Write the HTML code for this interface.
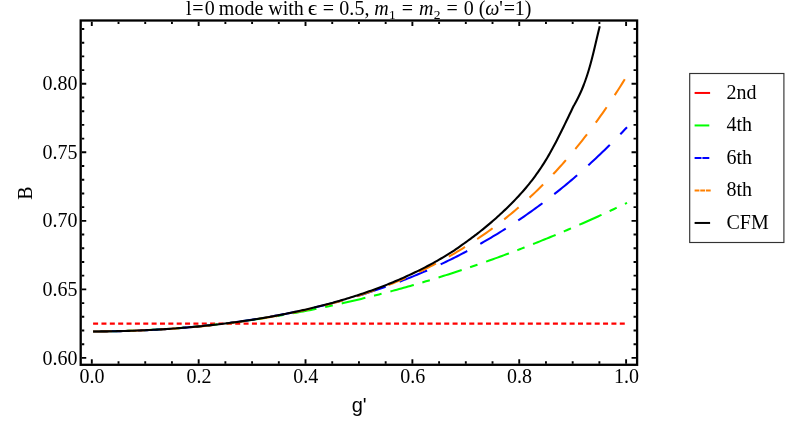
<!DOCTYPE html>
<html><head><meta charset="utf-8"><title>plot</title>
<style>html,body{margin:0;padding:0;background:#fff;overflow:hidden}svg{display:block;will-change:transform}</style>
</head><body>
<svg width="800" height="432" viewBox="0 0 800 432">
<rect x="0" y="0" width="800" height="432" fill="#fff"/>
<g fill="none" stroke-linecap="butt" stroke-linejoin="round">
<path d="M93.1 323.7 H627" stroke="#ff0000" stroke-width="2.2" stroke-dasharray="5 3.36"/>
<path d="M93.10 331.45 L95.33 331.44 L97.57 331.43 L99.80 331.42 L102.03 331.40 L104.27 331.38 L106.50 331.35 L108.74 331.32 L110.97 331.28 L113.20 331.24 L115.44 331.20 L117.67 331.15 L119.91 331.09 L122.14 331.04 L124.37 330.97 L126.61 330.91 L128.84 330.83 L131.08 330.76 L133.31 330.68 L135.54 330.59 L137.78 330.50 L140.01 330.41 L142.24 330.31 L144.48 330.20 L146.71 330.10 L148.95 329.98 L151.18 329.87 L153.41 329.75 L155.65 329.62 L157.88 329.49 L160.12 329.35 L162.35 329.22 L164.58 329.07 L166.82 328.92 L169.05 328.77 L171.29 328.61 L173.52 328.45 L175.75 328.29 L177.99 328.11 L180.22 327.94 L182.46 327.76 L184.69 327.58 L186.92 327.39 L189.16 327.19 L191.39 327.00 L193.63 326.80 L195.86 326.59 L198.09 326.38 L200.33 326.16 L202.56 325.94 L204.79 325.72 L207.03 325.49 L209.26 325.26 L211.50 325.02 L213.73 324.78 L215.96 324.53 L218.20 324.28 L220.43 324.02 L222.67 323.76 L224.90 323.50 L227.13 323.23 L229.37 322.95 L231.60 322.68 L233.84 322.39 L236.07 322.11 L238.30 321.82 L240.54 321.52 L242.77 321.22 L245.01 320.91 L247.24 320.60 L249.47 320.29 L251.71 319.97 L253.94 319.65 L256.18 319.32 L258.41 318.99 L260.64 318.65 L262.88 318.31 L265.11 317.97 L267.35 317.62 L269.58 317.26 L271.81 316.90 L274.05 316.54 L276.28 316.17 L278.51 315.80 L280.75 315.42 L282.98 315.04 L285.22 314.66 L287.45 314.27 L289.68 313.87 L291.92 313.47 L294.15 313.07 L296.39 312.66 L298.62 312.25 L300.85 311.83 L303.09 311.41 L305.32 310.98 L307.56 310.55 L309.79 310.12 L312.02 309.68 L314.26 309.24 L316.49 308.79 L318.73 308.33 L320.96 307.88 L323.19 307.42 L325.43 306.95 L327.66 306.48 L329.90 306.00 L332.13 305.52 L334.36 305.04 L336.60 304.55 L338.83 304.06 L341.06 303.56 L343.30 303.06 L345.53 302.55 L347.77 302.04 L350.00 301.52 L352.23 301.00 L354.47 300.48 L356.70 299.95 L358.94 299.42 L361.17 298.88 L363.40 298.34 L365.64 297.79 L367.87 297.24 L370.11 296.68 L372.34 296.12 L374.57 295.56 L376.81 294.99 L379.04 294.41 L381.28 293.84 L383.51 293.25 L385.74 292.67 L387.98 292.07 L390.21 291.48 L392.45 290.88 L394.68 290.27 L396.91 289.66 L399.15 289.05 L401.38 288.43 L403.62 287.81 L405.85 287.18 L408.08 286.55 L410.32 285.91 L412.55 285.27 L414.78 284.62 L417.02 283.97 L419.25 283.32 L421.49 282.66 L423.72 282.00 L425.95 281.33 L428.19 280.66 L430.42 279.98 L432.66 279.30 L434.89 278.61 L437.12 277.92 L439.36 277.23 L441.59 276.53 L443.83 275.82 L446.06 275.12 L448.29 274.40 L450.53 273.69 L452.76 272.96 L455.00 272.24 L457.23 271.51 L459.46 270.77 L461.70 270.03 L463.93 269.29 L466.17 268.54 L468.40 267.79 L470.63 267.03 L472.87 266.27 L475.10 265.50 L477.33 264.73 L479.57 263.96 L481.80 263.18 L484.04 262.39 L486.27 261.60 L488.50 260.81 L490.74 260.01 L492.97 259.21 L495.21 258.40 L497.44 257.59 L499.67 256.77 L501.91 255.95 L504.14 255.13 L506.38 254.30 L508.61 253.47 L510.84 252.63 L513.08 251.79 L515.31 250.94 L517.55 250.09 L519.78 249.23 L522.01 248.37 L524.25 247.51 L526.48 246.64 L528.72 245.76 L530.95 244.88 L533.18 244.00 L535.42 243.11 L537.65 242.22 L539.88 241.33 L542.12 240.42 L544.35 239.52 L546.59 238.61 L548.82 237.69 L551.05 236.78 L553.29 235.85 L555.52 234.93 L557.76 233.99 L559.99 233.06 L562.22 232.11 L564.46 231.17 L566.69 230.22 L568.93 229.26 L571.16 228.31 L573.39 227.34 L575.63 226.37 L577.86 225.40 L580.10 224.42 L582.33 223.44 L584.56 222.46 L586.80 221.47 L589.03 220.47 L591.27 219.47 L593.50 218.47 L595.73 217.46 L597.97 216.45 L600.20 215.43 L602.44 214.41 L604.67 213.38 L606.90 212.35 L609.14 211.32 L611.37 210.28 L613.60 209.23 L615.84 208.18 L618.07 207.13 L620.31 206.07 L622.54 205.01 L624.77 203.94 L627.01 202.87" stroke="#00ff00" stroke-width="2.05" stroke-dasharray="24.3 8.9 7.8 9.14" stroke-dashoffset="0"/>
<path d="M93.10 331.45 L95.33 331.44 L97.57 331.43 L99.80 331.42 L102.03 331.40 L104.27 331.38 L106.50 331.36 L108.74 331.33 L110.97 331.29 L113.20 331.25 L115.44 331.21 L117.67 331.16 L119.91 331.11 L122.14 331.05 L124.37 330.99 L126.61 330.92 L128.84 330.85 L131.08 330.78 L133.31 330.70 L135.54 330.62 L137.78 330.53 L140.01 330.44 L142.24 330.34 L144.48 330.24 L146.71 330.14 L148.95 330.03 L151.18 329.91 L153.41 329.79 L155.65 329.67 L157.88 329.54 L160.12 329.41 L162.35 329.27 L164.58 329.13 L166.82 328.98 L169.05 328.83 L171.29 328.68 L173.52 328.52 L175.75 328.35 L177.99 328.18 L180.22 328.01 L182.46 327.83 L184.69 327.64 L186.92 327.45 L189.16 327.26 L191.39 327.06 L193.63 326.86 L195.86 326.65 L198.09 326.44 L200.33 326.22 L202.56 325.99 L204.79 325.77 L207.03 325.53 L209.26 325.29 L211.50 325.05 L213.73 324.80 L215.96 324.55 L218.20 324.29 L220.43 324.02 L222.67 323.75 L224.90 323.48 L227.13 323.20 L229.37 322.91 L231.60 322.62 L233.84 322.32 L236.07 322.02 L238.30 321.71 L240.54 321.40 L242.77 321.08 L245.01 320.76 L247.24 320.43 L249.47 320.09 L251.71 319.75 L253.94 319.40 L256.18 319.05 L258.41 318.69 L260.64 318.32 L262.88 317.95 L265.11 317.57 L267.35 317.19 L269.58 316.80 L271.81 316.40 L274.05 316.00 L276.28 315.59 L278.51 315.18 L280.75 314.76 L282.98 314.33 L285.22 313.90 L287.45 313.45 L289.68 313.01 L291.92 312.55 L294.15 312.09 L296.39 311.63 L298.62 311.15 L300.85 310.67 L303.09 310.19 L305.32 309.69 L307.56 309.19 L309.79 308.68 L312.02 308.17 L314.26 307.64 L316.49 307.11 L318.73 306.58 L320.96 306.03 L323.19 305.48 L325.43 304.92 L327.66 304.35 L329.90 303.78 L332.13 303.20 L334.36 302.61 L336.60 302.01 L338.83 301.40 L341.06 300.79 L343.30 300.17 L345.53 299.54 L347.77 298.90 L350.00 298.26 L352.23 297.60 L354.47 296.94 L356.70 296.27 L358.94 295.59 L361.17 294.90 L363.40 294.21 L365.64 293.50 L367.87 292.79 L370.11 292.07 L372.34 291.34 L374.57 290.60 L376.81 289.85 L379.04 289.09 L381.28 288.32 L383.51 287.55 L385.74 286.76 L387.98 285.97 L390.21 285.16 L392.45 284.35 L394.68 283.53 L396.91 282.69 L399.15 281.85 L401.38 281.00 L403.62 280.13 L405.85 279.26 L408.08 278.38 L410.32 277.48 L412.55 276.58 L414.78 275.67 L417.02 274.74 L419.25 273.81 L421.49 272.86 L423.72 271.91 L425.95 270.94 L428.19 269.96 L430.42 268.97 L432.66 267.97 L434.89 266.96 L437.12 265.94 L439.36 264.91 L441.59 263.86 L443.83 262.81 L446.06 261.74 L448.29 260.66 L450.53 259.57 L452.76 258.46 L455.00 257.35 L457.23 256.22 L459.46 255.08 L461.70 253.93 L463.93 252.77 L466.17 251.59 L468.40 250.40 L470.63 249.20 L472.87 247.99 L475.10 246.76 L477.33 245.52 L479.57 244.27 L481.80 243.00 L484.04 241.72 L486.27 240.43 L488.50 239.12 L490.74 237.80 L492.97 236.47 L495.21 235.12 L497.44 233.76 L499.67 232.39 L501.91 231.00 L504.14 229.60 L506.38 228.18 L508.61 226.75 L510.84 225.30 L513.08 223.84 L515.31 222.36 L517.55 220.87 L519.78 219.37 L522.01 217.85 L524.25 216.31 L526.48 214.76 L528.72 213.19 L530.95 211.61 L533.18 210.01 L535.42 208.40 L537.65 206.77 L539.88 205.13 L542.12 203.47 L544.35 201.79 L546.59 200.10 L548.82 198.39 L551.05 196.66 L553.29 194.92 L555.52 193.16 L557.76 191.38 L559.99 189.58 L562.22 187.77 L564.46 185.94 L566.69 184.10 L568.93 182.24 L571.16 180.35 L573.39 178.46 L575.63 176.54 L577.86 174.60 L580.10 172.65 L582.33 170.68 L584.56 168.69 L586.80 166.68 L589.03 164.65 L591.27 162.61 L593.50 160.54 L595.73 158.46 L597.97 156.36 L600.20 154.23 L602.44 152.09 L604.67 149.93 L606.90 147.75 L609.14 145.55 L611.37 143.33 L613.60 141.09 L615.84 138.82 L618.07 136.54 L620.31 134.24 L622.54 131.92 L624.77 129.57 L627.01 127.21" stroke="#0000ff" stroke-width="2.05" stroke-dasharray="29.7 14.9" stroke-dashoffset="0"/>
<path d="M93.10 331.45 L95.33 331.44 L97.57 331.44 L99.80 331.42 L102.03 331.41 L104.27 331.38 L106.50 331.36 L108.74 331.33 L110.97 331.30 L113.20 331.26 L115.44 331.22 L117.67 331.17 L119.91 331.12 L122.14 331.06 L124.37 331.01 L126.61 330.94 L128.84 330.88 L131.08 330.80 L133.31 330.73 L135.54 330.65 L137.78 330.56 L140.01 330.47 L142.24 330.38 L144.48 330.28 L146.71 330.18 L148.95 330.08 L151.18 329.97 L153.41 329.85 L155.65 329.73 L157.88 329.61 L160.12 329.48 L162.35 329.35 L164.58 329.21 L166.82 329.07 L169.05 328.92 L171.29 328.77 L173.52 328.62 L175.75 328.46 L177.99 328.29 L180.22 328.12 L182.46 327.95 L184.69 327.77 L186.92 327.59 L189.16 327.40 L191.39 327.21 L193.63 327.01 L195.86 326.81 L198.09 326.60 L200.33 326.39 L202.56 326.17 L204.79 325.95 L207.03 325.72 L209.26 325.49 L211.50 325.25 L213.73 325.01 L215.96 324.76 L218.20 324.51 L220.43 324.25 L222.67 323.98 L224.90 323.71 L227.13 323.44 L229.37 323.16 L231.60 322.88 L233.84 322.58 L236.07 322.29 L238.30 321.99 L240.54 321.68 L242.77 321.36 L245.01 321.04 L247.24 320.72 L249.47 320.39 L251.71 320.05 L253.94 319.71 L256.18 319.36 L258.41 319.00 L260.64 318.64 L262.88 318.27 L265.11 317.90 L267.35 317.52 L269.58 317.13 L271.81 316.74 L274.05 316.34 L276.28 315.93 L278.51 315.52 L280.75 315.10 L282.98 314.67 L285.22 314.24 L287.45 313.80 L289.68 313.35 L291.92 312.90 L294.15 312.43 L296.39 311.96 L298.62 311.49 L300.85 311.00 L303.09 310.51 L305.32 310.01 L307.56 309.50 L309.79 308.99 L312.02 308.47 L314.26 307.93 L316.49 307.39 L318.73 306.85 L320.96 306.29 L323.19 305.73 L325.43 305.15 L327.66 304.57 L329.90 303.98 L332.13 303.38 L334.36 302.78 L336.60 302.16 L338.83 301.53 L341.06 300.90 L343.30 300.26 L345.53 299.60 L347.77 298.94 L350.00 298.27 L352.23 297.58 L354.47 296.89 L356.70 296.19 L358.94 295.47 L361.17 294.75 L363.40 294.02 L365.64 293.27 L367.87 292.52 L370.11 291.75 L372.34 290.97 L374.57 290.18 L376.81 289.39 L379.04 288.57 L381.28 287.75 L383.51 286.92 L385.74 286.07 L387.98 285.21 L390.21 284.34 L392.45 283.46 L394.68 282.57 L396.91 281.66 L399.15 280.74 L401.38 279.80 L403.62 278.86 L405.85 277.90 L408.08 276.92 L410.32 275.94 L412.55 274.94 L414.78 273.92 L417.02 272.89 L419.25 271.85 L421.49 270.79 L423.72 269.72 L425.95 268.63 L428.19 267.53 L430.42 266.41 L432.66 265.27 L434.89 264.12 L437.12 262.96 L439.36 261.78 L441.59 260.58 L443.83 259.36 L446.06 258.13 L448.29 256.88 L450.53 255.61 L452.76 254.33 L455.00 253.03 L457.23 251.71 L459.46 250.37 L461.70 249.01 L463.93 247.64 L466.17 246.25 L468.40 244.83 L470.63 243.40 L472.87 241.95 L475.10 240.47 L477.33 238.98 L479.57 237.47 L481.80 235.94 L484.04 234.38 L486.27 232.80 L488.50 231.21 L490.74 229.59 L492.97 227.94 L495.21 226.28 L497.44 224.59 L499.67 222.88 L501.91 221.15 L504.14 219.39 L506.38 217.61 L508.61 215.81 L510.84 213.98 L513.08 212.12 L515.31 210.24 L517.55 208.33 L519.78 206.40 L522.01 204.44 L524.25 202.46 L526.48 200.45 L528.72 198.41 L530.95 196.34 L533.18 194.25 L535.42 192.13 L537.65 189.98 L539.88 187.79 L542.12 185.59 L544.35 183.35 L546.59 181.08 L548.82 178.78 L551.05 176.44 L553.29 174.08 L555.52 171.69 L557.76 169.26 L559.99 166.80 L562.22 164.31 L564.46 161.78 L566.69 159.22 L568.93 156.63 L571.16 154.00 L573.39 151.34 L575.63 148.64 L577.86 145.90 L580.10 143.13 L582.33 140.32 L584.56 137.48 L586.80 134.59 L589.03 131.67 L591.27 128.71 L593.50 125.71 L595.73 122.67 L597.97 119.59 L600.20 116.47 L602.44 113.30 L604.67 110.10 L606.90 106.85 L609.14 103.56 L611.37 100.23 L613.60 96.86 L615.84 93.43 L618.07 89.97 L620.31 86.46 L622.54 82.90 L624.77 79.30 L627.01 75.65" stroke="#ff8000" stroke-width="2.05" stroke-dasharray="18.8 14.6" stroke-dashoffset="0"/>
<path d="M93.10 331.45 L95.10 331.44 L97.10 331.44 L99.10 331.43 L101.10 331.41 L103.10 331.39 L105.10 331.37 L107.10 331.35 L109.10 331.32 L111.10 331.29 L113.10 331.25 L115.10 331.22 L117.10 331.17 L119.10 331.13 L121.10 331.08 L123.10 331.03 L125.10 330.97 L127.10 330.91 L129.10 330.85 L131.10 330.78 L133.10 330.71 L135.10 330.64 L137.10 330.56 L139.10 330.48 L141.10 330.40 L143.10 330.31 L145.10 330.22 L147.10 330.13 L149.10 330.03 L151.10 329.93 L153.10 329.82 L155.10 329.72 L157.10 329.60 L159.10 329.49 L161.10 329.37 L163.10 329.24 L165.10 329.12 L167.10 328.99 L169.10 328.85 L171.10 328.71 L173.10 328.57 L175.10 328.43 L177.10 328.28 L179.10 328.13 L181.10 327.97 L183.10 327.81 L185.10 327.64 L187.10 327.48 L189.10 327.30 L191.10 327.13 L193.10 326.95 L195.10 326.76 L197.10 326.58 L199.10 326.39 L201.10 326.19 L203.10 325.99 L205.10 325.79 L207.10 325.58 L209.10 325.37 L211.10 325.15 L213.10 324.93 L215.10 324.71 L217.10 324.48 L219.10 324.25 L221.10 324.01 L223.10 323.77 L225.10 323.52 L227.10 323.27 L229.10 323.02 L231.10 322.76 L233.10 322.49 L235.10 322.23 L237.10 321.96 L239.10 321.68 L241.10 321.40 L243.10 321.11 L245.10 320.82 L247.10 320.52 L249.10 320.22 L251.10 319.92 L253.10 319.61 L255.10 319.30 L257.10 318.98 L259.10 318.65 L261.10 318.32 L263.10 317.99 L265.10 317.65 L267.10 317.30 L269.10 316.95 L271.10 316.60 L273.10 316.24 L275.10 315.87 L277.10 315.50 L279.10 315.12 L281.10 314.74 L283.10 314.35 L285.10 313.96 L287.10 313.56 L289.10 313.15 L291.10 312.74 L293.10 312.32 L295.10 311.90 L297.10 311.47 L299.10 311.04 L301.10 310.59 L303.10 310.15 L305.10 309.69 L307.10 309.23 L309.10 308.77 L311.10 308.29 L313.10 307.81 L315.10 307.33 L317.10 306.84 L319.10 306.34 L321.10 305.83 L323.10 305.31 L325.10 304.79 L327.10 304.27 L329.10 303.73 L331.10 303.19 L333.10 302.64 L335.10 302.08 L337.10 301.52 L339.10 300.94 L341.10 300.36 L343.10 299.78 L345.10 299.18 L347.10 298.57 L349.10 297.96 L351.10 297.34 L353.10 296.71 L355.10 296.07 L357.10 295.43 L359.10 294.77 L361.10 294.11 L363.10 293.44 L365.10 292.75 L367.10 292.06 L369.10 291.36 L371.10 290.65 L373.10 289.93 L375.10 289.20 L377.10 288.46 L379.10 287.71 L381.10 286.95 L383.10 286.18 L385.10 285.40 L387.10 284.61 L389.10 283.81 L391.10 283.00 L393.10 282.17 L395.10 281.34 L397.10 280.49 L399.10 279.63 L401.10 278.76 L403.10 277.88 L405.10 276.99 L407.10 276.08 L409.10 275.16 L411.10 274.23 L413.10 273.28 L415.10 272.32 L417.10 271.35 L419.10 270.36 L421.10 269.36 L423.10 268.35 L425.10 267.32 L427.10 266.27 L429.10 265.22 L431.10 264.14 L433.10 263.05 L435.10 261.94 L437.10 260.82 L439.10 259.68 L441.10 258.53 L443.10 257.35 L445.10 256.16 L447.10 254.95 L449.10 253.72 L451.10 252.48 L454.00 250.59 L456.00 249.24 L458.00 247.85 L460.00 246.43 L462.00 244.97 L464.00 243.50 L466.00 242.07 L467.50 240.99 L469.00 239.90 L470.50 238.80 L472.00 237.69 L473.50 236.57 L475.00 235.43 L476.50 234.29 L478.00 233.13 L479.50 231.96 L481.00 230.78 L482.50 229.58 L484.00 228.37 L485.50 227.15 L487.00 225.91 L488.50 224.66 L490.00 223.40 L491.50 222.12 L493.00 220.82 L494.50 219.51 L496.00 218.18 L497.50 216.84 L499.00 215.48 L500.50 214.10 L502.00 212.71 L503.50 211.30 L505.00 209.87 L506.50 208.43 L508.00 206.96 L509.50 205.48 L511.00 203.98 L512.50 202.46 L514.00 200.92 L515.50 199.36 L517.00 197.77 L518.50 196.17 L520.00 194.54 L521.50 192.88 L523.00 191.19 L524.50 189.46 L526.00 187.71 L527.50 185.91 L529.00 184.08 L530.50 182.20 L532.00 180.28 L533.50 178.32 L535.00 176.30 L536.50 174.24 L538.00 172.12 L539.50 169.95 L541.00 167.72 L542.50 165.43 L544.00 163.08 L545.50 160.66 L547.00 158.18 L548.50 155.63 L550.00 153.01 L551.50 150.33 L553.00 147.58 L554.50 144.78 L556.00 141.92 L557.50 139.01 L559.00 136.06 L560.50 133.07 L562.00 130.05 L563.50 126.99 L565.00 123.91 L566.50 120.81 L568.00 117.70 L569.50 114.57 L571.00 111.43 L572.50 108.29 L573.60 105.99 L574.51 104.50 L575.34 103.00 L576.15 101.50 L576.94 100.00 L577.70 98.50 L578.45 97.00 L579.17 95.50 L579.88 94.00 L580.57 92.50 L581.24 91.00 L581.89 89.50 L582.50 88.00 L583.11 86.50 L583.69 85.00 L584.26 83.50 L584.82 82.00 L585.36 80.50 L585.88 79.00 L586.40 77.50 L586.90 76.00 L587.39 74.50 L587.86 73.00 L588.33 71.50 L588.78 70.00 L589.22 68.50 L589.66 67.00 L590.08 65.50 L590.50 64.00 L590.91 62.50 L591.31 61.00 L591.70 59.50 L592.09 58.00 L592.47 56.50 L592.85 55.00 L593.22 53.50 L593.59 52.00 L593.95 50.50 L594.31 49.00 L594.67 47.50 L595.03 46.00 L595.38 44.50 L595.73 43.00 L596.08 41.50 L596.44 40.00 L596.79 38.50 L597.14 37.00 L597.50 35.50 L597.86 34.00 L598.22 32.50 L598.58 31.00 L598.95 29.50 L599.32 28.00 L599.70 26.50 L599.77 26.20" stroke="#000" stroke-width="2.1"/>
</g>
<rect x="80.70" y="20.50" width="556.40" height="344.30" fill="none" stroke="#000" stroke-width="2.30"/>
<path d="M91.80 363.65 v-4.40 M91.80 21.65 v4.40 M118.52 363.65 v-2.40 M118.52 21.65 v2.40 M145.23 363.65 v-2.40 M145.23 21.65 v2.40 M171.94 363.65 v-2.40 M171.94 21.65 v2.40 M198.66 363.65 v-4.40 M198.66 21.65 v4.40 M225.38 363.65 v-2.40 M225.38 21.65 v2.40 M252.09 363.65 v-2.40 M252.09 21.65 v2.40 M278.81 363.65 v-2.40 M278.81 21.65 v2.40 M305.52 363.65 v-4.40 M305.52 21.65 v4.40 M332.23 363.65 v-2.40 M332.23 21.65 v2.40 M358.95 363.65 v-2.40 M358.95 21.65 v2.40 M385.67 363.65 v-2.40 M385.67 21.65 v2.40 M412.38 363.65 v-4.40 M412.38 21.65 v4.40 M439.09 363.65 v-2.40 M439.09 21.65 v2.40 M465.81 363.65 v-2.40 M465.81 21.65 v2.40 M492.52 363.65 v-2.40 M492.52 21.65 v2.40 M519.24 363.65 v-4.40 M519.24 21.65 v4.40 M545.96 363.65 v-2.40 M545.96 21.65 v2.40 M572.67 363.65 v-2.40 M572.67 21.65 v2.40 M599.38 363.65 v-2.40 M599.38 21.65 v2.40 M626.10 363.65 v-4.40 M626.10 21.65 v4.40 M81.85 357.90 h4.40 M635.95 357.90 h-4.40 M81.85 344.19 h2.40 M635.95 344.19 h-2.40 M81.85 330.49 h2.40 M635.95 330.49 h-2.40 M81.85 316.78 h2.40 M635.95 316.78 h-2.40 M81.85 303.08 h2.40 M635.95 303.08 h-2.40 M81.85 289.37 h4.40 M635.95 289.37 h-4.40 M81.85 275.67 h2.40 M635.95 275.67 h-2.40 M81.85 261.97 h2.40 M635.95 261.97 h-2.40 M81.85 248.26 h2.40 M635.95 248.26 h-2.40 M81.85 234.56 h2.40 M635.95 234.56 h-2.40 M81.85 220.85 h4.40 M635.95 220.85 h-4.40 M81.85 207.14 h2.40 M635.95 207.14 h-2.40 M81.85 193.44 h2.40 M635.95 193.44 h-2.40 M81.85 179.73 h2.40 M635.95 179.73 h-2.40 M81.85 166.03 h2.40 M635.95 166.03 h-2.40 M81.85 152.32 h4.40 M635.95 152.32 h-4.40 M81.85 138.62 h2.40 M635.95 138.62 h-2.40 M81.85 124.91 h2.40 M635.95 124.91 h-2.40 M81.85 111.21 h2.40 M635.95 111.21 h-2.40 M81.85 97.50 h2.40 M635.95 97.50 h-2.40 M81.85 83.80 h4.40 M635.95 83.80 h-4.40 M81.85 70.10 h2.40 M635.95 70.10 h-2.40 M81.85 56.39 h2.40 M635.95 56.39 h-2.40 M81.85 42.69 h2.40 M635.95 42.69 h-2.40 M81.85 28.98 h2.40 M635.95 28.98 h-2.40" stroke="#000" stroke-width="1.9" fill="none"/>
<rect x="689.7" y="73.5" width="94.2" height="169" fill="#fff" stroke="#333" stroke-width="1.15"/>
<g font-family="'Liberation Serif', serif" font-size="20" fill="#000">
<text x="92.10" y="383.2" text-anchor="middle">0.0</text>
<text x="198.96" y="383.2" text-anchor="middle">0.2</text>
<text x="305.82" y="383.2" text-anchor="middle">0.4</text>
<text x="412.68" y="383.2" text-anchor="middle">0.6</text>
<text x="519.54" y="383.2" text-anchor="middle">0.8</text>
<text x="626.40" y="383.2" text-anchor="middle">1.0</text>
<text x="77.4" y="364.50" text-anchor="end">0.60</text>
<text x="77.4" y="295.97" text-anchor="end">0.65</text>
<text x="77.4" y="227.45" text-anchor="end">0.70</text>
<text x="77.4" y="158.92" text-anchor="end">0.75</text>
<text x="77.4" y="90.40" text-anchor="end">0.80</text>
<text transform="translate(32 193) rotate(-90)" text-anchor="middle">B</text>
<text x="186" y="14.6" xml:space="preserve"><tspan>l</tspan><tspan dx="0.60">=</tspan><tspan dx="1.20">0</tspan><tspan> </tspan><tspan dx="-0.80">mode with </tspan><tspan> </tspan><tspan dx="8.90">=</tspan><tspan dx="0.20"> 0.</tspan><tspan dx="0.30">5,</tspan><tspan> </tspan><tspan dx="-0.20" font-style="italic">m</tspan><tspan dx="0.30" dy="4.50" font-size="13.5">1</tspan><tspan dy="-4.50"> </tspan><tspan dx="1.00">=</tspan><tspan> </tspan><tspan dx="0.80" font-style="italic">m</tspan><tspan dx="0.30" dy="4.50" font-size="13.5">2</tspan><tspan dy="-4.50"> </tspan><tspan dx="1.20">=</tspan><tspan> </tspan><tspan dx="0.95">0</tspan><tspan> </tspan><tspan dx="-0.05">(</tspan><tspan dx="-0.30" font-style="italic">ω</tspan><tspan>'</tspan><tspan dx="0.75">=</tspan><tspan dx="-0.15">1</tspan><tspan dx="0.05">)</tspan></text><text transform="translate(307.86 14.6) scale(1.17 1.05)">ϵ</text>
<text x="726.5" y="98.70">2nd</text>
<text x="726.5" y="131.20">4th</text>
<text x="726.5" y="163.70">6th</text>
<text x="726.5" y="196.20">8th</text>
<text x="726.5" y="228.70">CFM</text>
</g>
<text x="359.2" y="412" text-anchor="middle" font-family="'Liberation Sans', sans-serif" font-size="20" fill="#000">g'</text>
<g fill="none" stroke-width="2.0">
<path d="M694.6 92.95 H710.1" stroke="#ff0000"/>
<path d="M694.6 125.45 H709.3" stroke="#00ff00"/>
<path d="M694.6 157.95 H709.3" stroke="#0000ff" stroke-dasharray="6.9 0.9"/>
<path d="M694.6 190.45 H710.7" stroke="#ff8000" stroke-dasharray="4.8 0.85"/>
<path d="M694.6 222.95 H710.1" stroke="#000"/>
</g>
</svg>
</body></html>
